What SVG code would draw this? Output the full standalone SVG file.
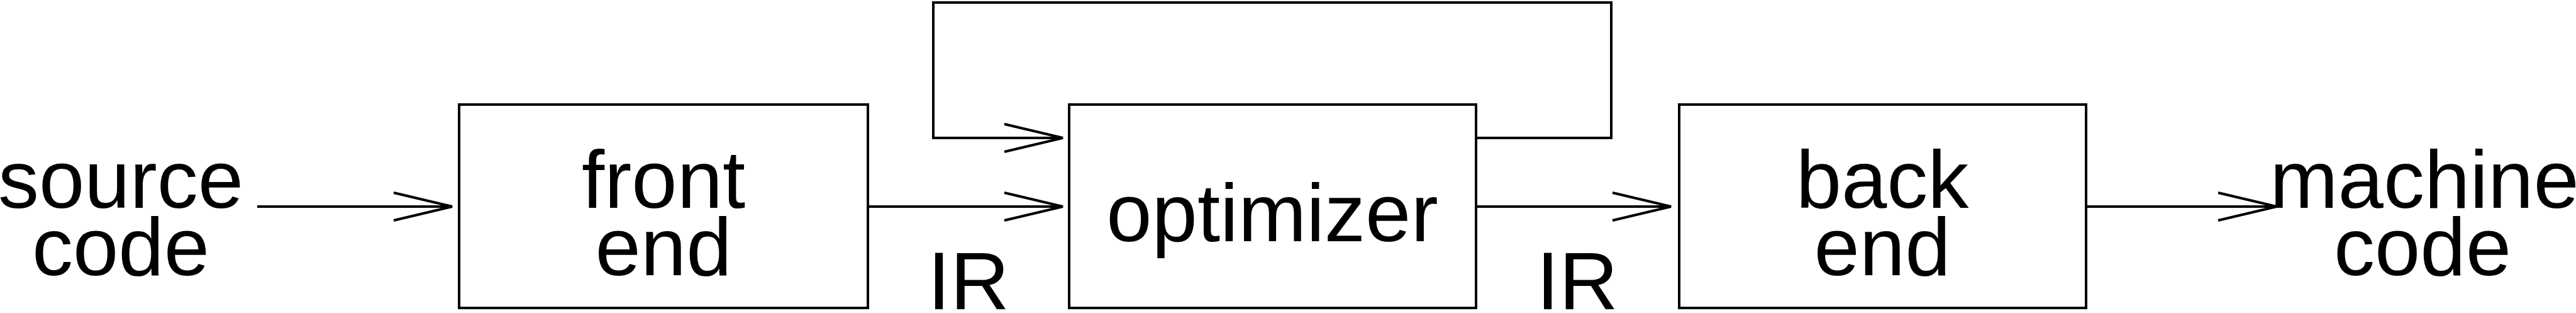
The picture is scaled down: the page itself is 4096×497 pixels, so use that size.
<svg xmlns="http://www.w3.org/2000/svg" width="4096" height="497" viewBox="0 0 4096 497">
<style>
.box{fill:#fff;stroke:#000;stroke-width:4}
.edge{fill:none;stroke:#000;stroke-width:4;marker-end:url(#arr)}
.t{font-family:"Liberation Sans",Arial,sans-serif;font-size:130px;fill:#000;text-anchor:middle}
</style>
<defs>
<marker id="arr" markerUnits="userSpaceOnUse" viewBox="-100 -30 110 60" markerWidth="110" markerHeight="60" refX="0" refY="0" orient="auto">
<path d="M-93,-22 L0,0 L-93,22" fill="none" stroke="#000" stroke-width="4"/>
</marker>
</defs>
<rect width="4096" height="497" fill="#fff"/>
<g id="connectors">
<path class="edge" d="M409,328 H719"/>
<path class="edge" d="M1380,328 H1690"/>
<path class="edge" d="M2347,219 H2562 V4 H1484 V219 H1690"/>
<path class="edge" d="M2347,328 H2657"/>
<path class="edge" d="M3317,328 H3620"/>
</g>
<g id="source">
<text class="t" x="192" y="330">source</text>
<text class="t" x="192" y="437">code</text>
</g>
<g id="frontend">
<rect class="box" x="730" y="166" width="650" height="323"/>
<text class="t" x="1055" y="330">front</text>
<text class="t" x="1055" y="437">end</text>
</g>
<g id="ir1">
<text class="t" x="1540" y="491">IR</text>
</g>
<g id="optimizer">
<rect class="box" x="1700" y="166" width="647" height="323"/>
<text class="t" x="2023" y="383">optimizer</text>
</g>
<g id="ir2">
<text class="t" x="2508" y="491">IR</text>
</g>
<g id="backend">
<rect class="box" x="2670" y="166" width="647" height="323"/>
<text class="t" x="2993" y="330">back</text>
<text class="t" x="2993" y="437">end</text>
</g>
<g id="machine">
<text class="t" x="3855" y="330">machine</text>
<text class="t" x="3852" y="437">code</text>
</g>
</svg>
